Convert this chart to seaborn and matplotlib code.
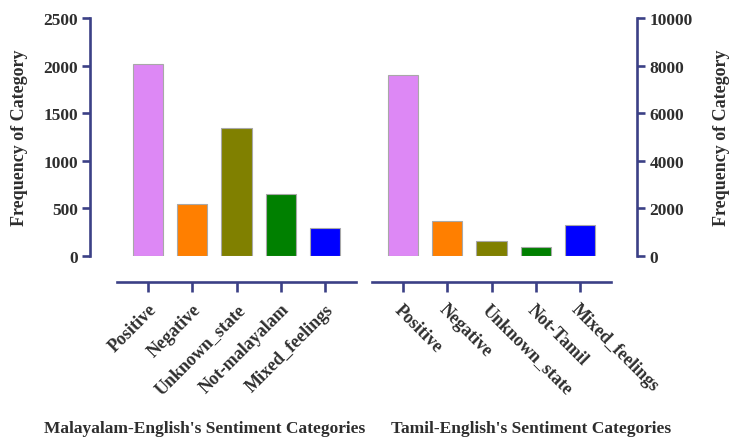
import matplotlib
matplotlib.use("Agg")
import matplotlib.pyplot as plt
import seaborn as sns
import pandas as pd

# ---- data ----
mal_categories = ["Positive", "Negative", "Unknown_state", "Not-malayalam", "Mixed_feelings"]
mal_counts = [2022, 549, 1344, 647, 289]
tam_categories = ["Positive", "Negative", "Unknown_state", "Not-Tamil", "Mixed_feelings"]
tam_counts = [7627, 1448, 609, 368, 1283]
bar_colors = ["#dd88f5", "#ff7f00", "#808000", "#008000", "#0000ff"]
mal_yticks = [0, 500, 1000, 1500, 2000, 2500]
tam_yticks = [0, 2000, 4000, 6000, 8000, 10000]
mal_xlabel = "Malayalam-English's Sentiment Categories"
tam_xlabel = "Tamil-English's Sentiment Categories"
ylabel = "Frequency of Category"

sns.set_theme(style="white")
plt.rcParams["font.family"] = ["Liberation Serif", "DejaVu Serif"]
plt.rcParams["font.weight"] = "bold"

spine_col = "#3b4086"
text_col = "#2e2e2e"
W, H = 729, 439
fig = plt.figure(figsize=(W / 100, H / 100), dpi=100)

def px_axes(x0, x1, ytop, ybot):
    return [x0 / W, 1 - ybot / H, (x1 - x0) / W, (ybot - ytop) / H]

ax1 = fig.add_axes(px_axes(117, 356, 19.3, 256.7))
ax2 = fig.add_axes(px_axes(372, 611, 19.3, 256.7))

df1 = pd.DataFrame({"cat": mal_categories, "n": mal_counts})
df2 = pd.DataFrame({"cat": tam_categories, "n": tam_counts})

for ax, df in ((ax1, df1), (ax2, df2)):
    sns.barplot(data=df, x="cat", y="n", hue="cat", palette=bar_colors,
                legend=False, width=0.68, ax=ax, edgecolor="#a8a8a8",
                linewidth=0.8, saturation=1)
    ax.set_xlim(-0.7, 4.7)
    ax.set_facecolor("none")
    for s in ("top", "right", "left", "bottom"):
        ax.spines[s].set_visible(False)
    ax.spines["bottom"].set_visible(True)
    ax.spines["bottom"].set_position(("outward", 19))
    ax.spines["bottom"].set_color(spine_col)
    ax.spines["bottom"].set_linewidth(1.9)
    ax.tick_params(axis="x", bottom=True, length=7.2, width=1.9, color=spine_col,
                   labelsize=13, labelcolor=text_col, pad=6)
    ax.tick_params(axis="y", length=5.8, width=1.9, color=spine_col,
                   labelsize=12.5, labelcolor=text_col, pad=3)
    ax.grid(False)

# left panel
ax1.set_ylim(0, 2500)
ax1.set_yticks(mal_yticks)
ax1.tick_params(axis="y", left=True, right=False)
ax1.spines["left"].set_visible(True)
ax1.spines["left"].set_position(("outward", 19.4))
ax1.spines["left"].set_color(spine_col)
ax1.spines["left"].set_linewidth(1.9)
ax1.set_ylabel(ylabel, fontsize=13, fontweight="bold", color=text_col)
ax1.yaxis.set_label_coords(-0.373, 0.5)
ax1.set_xticks(range(len(mal_categories)))
ax1.set_xticklabels(mal_categories, rotation=45, ha="right", rotation_mode="anchor",
                    fontweight="bold")
ax1.set_xlabel(mal_xlabel, fontsize=12.5, fontweight="bold", color=text_col)
ax1.xaxis.set_label_coords(0.368, -0.69)

# right panel
ax2.set_ylim(0, 10000)
ax2.set_yticks(tam_yticks)
ax2.yaxis.tick_right()
ax2.tick_params(axis="y", right=True, left=False)
ax2.yaxis.set_label_position("right")
ax2.spines["right"].set_visible(True)
ax2.spines["right"].set_position(("outward", 19))
ax2.spines["right"].set_color(spine_col)
ax2.spines["right"].set_linewidth(1.9)
ax2.set_ylabel(ylabel, fontsize=13, fontweight="bold", color=text_col)
ax2.yaxis.set_label_coords(1.428, 0.5)
ax2.set_xticks(range(len(tam_categories)))
ax2.set_xticklabels(tam_categories, rotation=-45, ha="left", rotation_mode="anchor",
                    fontweight="bold")
ax2.set_xlabel(tam_xlabel, fontsize=12.5, fontweight="bold", color=text_col)
ax2.xaxis.set_label_coords(0.665, -0.69)

for ax in (ax1, ax2):
    for lab in ax.get_yticklabels():
        lab.set_fontweight("bold")

fig.savefig("out.png", dpi=100, facecolor="white")
